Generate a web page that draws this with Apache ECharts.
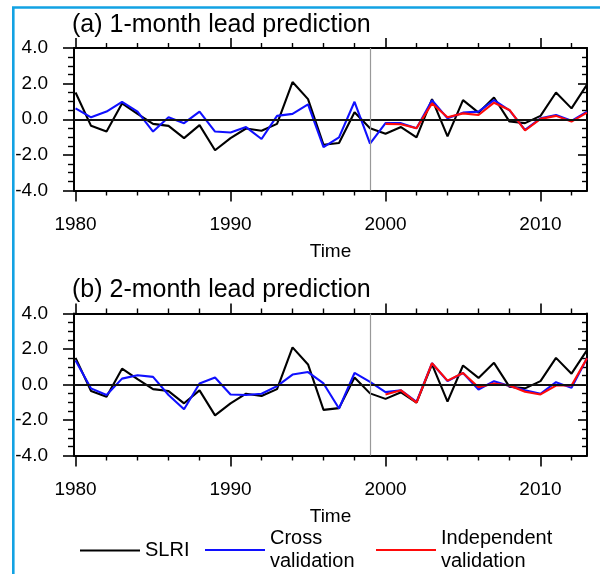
<!DOCTYPE html>
<html>
<head>
<meta charset="utf-8">
<script src="https://cdn.jsdelivr.net/npm/echarts@6/dist/echarts.min.js"></script>
<style>html,body{margin:0;padding:0;background:#fff}#c{width:600px;height:574px}</style>
</head>
<body>
<div id="c"></div>
<script>
// ---- data ----
const years = [1980,1981,1982,1983,1984,1985,1986,1987,1988,1989,1990,1991,1992,1993,1994,1995,1996,
               1997,1998,1999,2000,2001,2002,2003,2004,2005,2006,2007,2008,2009,2010,2011,2012,2013];
const indepYears = [2000,2001,2002,2003,2004,2005,2006,2007,2008,2009,2010,2011,2012,2013];

const slri = [1.5,-0.37,-0.69,0.89,0.3,-0.26,-0.37,-1.06,-0.33,-1.74,-1.06,-0.52,-0.65,-0.26,2.09,1.13,-1.43,
              -1.33,0.39,-0.5,-0.81,-0.44,-1.02,1.13,-0.96,1.07,0.37,1.22,-0.13,-0.22,0.19,1.5,0.61,1.94];

const crossA = [0.61,0.11,0.43,0.98,0.43,-0.69,0.11,-0.22,0.43,-0.69,-0.74,-0.44,-1.11,0.19,0.3,0.83,-1.56,
                -1.02,0.98,-1.37,-0.22,-0.22,-0.5,1.07,0.05,0.37,0.43,1.07,0.5,-0.6,0.05,0.24,-0.09,0.43];
const indepA = [-0.26,-0.28,-0.5,0.89,0.11,0.33,0.24,0.93,0.52,-0.63,0.02,0.19,-0.13,0.37];

const crossB = [1.35,-0.22,-0.59,0.33,0.52,0.43,-0.59,-1.39,0.06,0.39,-0.56,-0.59,-0.52,-0.09,0.56,0.7,0.06,
                -1.35,0.65,0.15,-0.43,-0.33,-0.98,1.2,0.19,0.65,-0.28,0.19,-0.09,-0.33,-0.52,0.13,-0.19,1.48];
const indepB = [-0.56,-0.33,-1.02,1.2,0.22,0.65,-0.15,0.06,-0.06,-0.41,-0.56,-0.06,-0.06,1.48];

const majorYears = [1980,1990,2000,2010];
const minorYears = [1982,1984,1986,1988,1992,1994,1996,1998,2002,2004,2006,2008,2012];
const splitYear = 1999;
const panelTitles = ['(a) 1-month lead prediction','(b) 2-month lead prediction'];
const seriesNames = ['SLRI','Cross validation','Independent validation'];
const xName = 'Time';

// ---- chart ----
const FONT = "'Liberation Sans', Arial, Helvetica, sans-serif";
const chart = echarts.init(document.getElementById('c'), null, {renderer:'canvas'});

const grids = [
  {left:74, top:48, width:513, height:142.5},
  {left:74, top:313.5, width:513, height:142}
];
const X_MIN = 1979.9, X_MAX = 2013;
const lineBlack = {color:'#000', width:2};
const COLORS = ['#000', '#1010ff', '#ff0a0a'];

const xAxes = [], yAxes = [], series = [];
const cross = [crossA, crossB], indep = [indepA, indepB];

grids.forEach((g, gi) => {
  const base = xAxes.length;
  // bottom major
  xAxes.push({gridIndex:gi, type:'value', min:X_MIN, max:X_MAX, position:'bottom',
    axisLine:{show:true, onZero:false, lineStyle:lineBlack},
    axisTick:{show:true, customValues:majorYears, length:11, lineStyle:{color:'#000', width:1.6}},
    axisLabel:{show:true, customValues:majorYears, margin:25, fontSize:19, color:'#000', fontFamily:FONT,
      formatter:v=>String(Math.round(v))},
    splitLine:{show:false},
    name:xName, nameLocation:'middle', nameGap:52,
    nameTextStyle:{fontSize:19, color:'#000', fontFamily:FONT}
  });
  // bottom minor
  xAxes.push({gridIndex:gi, type:'value', min:X_MIN, max:X_MAX, position:'bottom',
    axisLine:{show:false, onZero:false},
    axisTick:{show:true, customValues:minorYears, length:5, lineStyle:{color:'#000', width:1.4}},
    axisLabel:{show:false}, splitLine:{show:false}
  });
  // top major
  xAxes.push({gridIndex:gi, type:'value', min:X_MIN, max:X_MAX, position:'top',
    axisLine:{show:true, onZero:false, lineStyle:lineBlack},
    axisTick:{show:true, customValues:majorYears, length:10, lineStyle:{color:'#000', width:1.6}},
    axisLabel:{show:false}, splitLine:{show:false}
  });
  // top minor
  xAxes.push({gridIndex:gi, type:'value', min:X_MIN, max:X_MAX, position:'top',
    axisLine:{show:false, onZero:false},
    axisTick:{show:true, customValues:minorYears, length:5, lineStyle:{color:'#000', width:1.4}},
    axisLabel:{show:false}, splitLine:{show:false}
  });
  const ybase = yAxes.length;
  yAxes.push({gridIndex:gi, type:'value', min:-4, max:4, interval:2, position:'left',
    axisLine:{show:true, onZero:false, lineStyle:lineBlack},
    axisTick:{show:true, length:11, lineStyle:{color:'#000', width:1.6}},
    minorTick:{show:true, splitNumber:4, length:6, lineStyle:{color:'#000', width:1.4}},
    axisLabel:{margin:26, fontSize:19, color:'#000', fontFamily:FONT, formatter:v=>v.toFixed(1)},
    splitLine:{show:false}
  });
  yAxes.push({gridIndex:gi, type:'value', min:-4, max:4, interval:2, position:'right',
    axisLine:{show:true, onZero:false, lineStyle:lineBlack},
    axisTick:{show:true, inside:true, length:9, lineStyle:{color:'#000', width:1.6}},
    minorTick:{show:true, splitNumber:4, length:5, lineStyle:{color:'#000', width:1.4}},
    axisLabel:{show:false}, splitLine:{show:false}
  });

  series.push({
    name:seriesNames[0], type:'line', xAxisIndex:base, yAxisIndex:ybase,
    data:years.map((y,i)=>[y, slri[i]]), symbol:'none', lineStyle:{color:COLORS[0], width:2.1}, itemStyle:{color:COLORS[0]},
    markLine:{silent:true, symbol:['none','none'], label:{show:false}, animation:false,
      data:[
        {yAxis:0, lineStyle:{color:'#111', width:1.8, type:'solid'}},
        {xAxis:splitYear, lineStyle:{color:'#999', width:1.2, type:'solid'}}
      ]}
  });
  series.push({
    name:seriesNames[1], type:'line', xAxisIndex:base, yAxisIndex:ybase,
    data:years.map((y,i)=>[y, cross[gi][i]]), symbol:'none', lineStyle:{color:COLORS[1], width:2.1}, itemStyle:{color:COLORS[1]}
  });
  series.push({
    name:seriesNames[2], type:'line', xAxisIndex:base, yAxisIndex:ybase,
    data:indepYears.map((y,i)=>[y, indep[gi][i]]), symbol:'none', lineStyle:{color:COLORS[2], width:2.1}, itemStyle:{color:COLORS[2]}
  });
});

const legendCommon = {
  orient:'horizontal', icon:'rect', itemWidth:60, itemHeight:2, padding:0, selectedMode:false,
  textStyle:{fontSize:20, color:'#000', fontFamily:FONT, lineHeight:23},
  formatter:n=>n.replace(' ', '\n')
};

chart.setOption({
  animation:false,
  backgroundColor:'#fff',
  title:[
    {text:panelTitles[0], left:72, top:13, padding:0, textStyle:{fontSize:25, fontWeight:'normal', color:'#000', fontFamily:FONT}},
    {text:panelTitles[1], left:72, top:277.5, padding:0, textStyle:{fontSize:25, fontWeight:'normal', color:'#000', fontFamily:FONT}}
  ],
  grid:grids,
  xAxis:xAxes,
  yAxis:yAxes,
  legend:[
    Object.assign({}, legendCommon, {data:[seriesNames[0]], left:80, top:539}),
    Object.assign({}, legendCommon, {data:[seriesNames[1]], left:205, top:527}),
    Object.assign({}, legendCommon, {data:[seriesNames[2]], left:376, top:527})
  ],
  graphic:[
    {type:'rect', silent:true, z:100, shape:{x:13.3, y:7.5, width:700, height:700},
     style:{fill:'none', stroke:'#12a2e3', lineWidth:2.6}}
  ],
  series:series
});
</script>
</body>
</html>
